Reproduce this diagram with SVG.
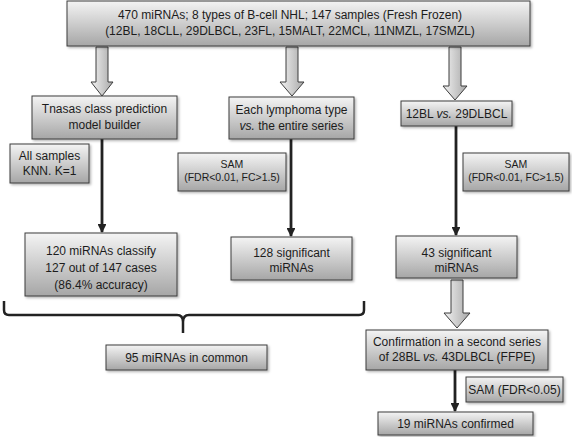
<svg xmlns="http://www.w3.org/2000/svg" width="572" height="437" viewBox="0 0 572 437">
<defs>
<linearGradient id="gBox" x1="0" y1="0" x2="0" y2="1">
<stop offset="0" stop-color="#f4f4f4"/>
<stop offset="1" stop-color="#a6a6a6"/>
</linearGradient>
<linearGradient id="gArr" x1="0" y1="0" x2="1" y2="0">
<stop offset="0" stop-color="#f2f2f2"/>
<stop offset="1" stop-color="#a8a8a8"/>
</linearGradient>
<filter id="sh" x="-10%" y="-10%" width="130%" height="140%">
<feDropShadow dx="1.5" dy="1.5" stdDeviation="1" flood-color="#000" flood-opacity="0.3"/>
</filter>
<marker id="ah" viewBox="0 0 10 10" refX="9" refY="5" markerWidth="3.2" markerHeight="3.2" orient="auto" markerUnits="strokeWidth">
<path d="M0,0 L10,5 L0,10 z" fill="#222"/>
</marker>
</defs>
<style>
.box{fill:url(#gBox);stroke:#3c3c3c;stroke-width:1;filter:url(#sh)}
.barr{fill:url(#gArr);stroke:#3c3c3c;stroke-width:1}
.t{font-family:"Liberation Sans",Arial,Helvetica,sans-serif;font-size:12px;fill:#1c1c1c;text-anchor:middle}
.s{font-size:10.5px}
.it{font-style:italic}
.ln{stroke:#222;stroke-width:2.8;fill:none}
.br{stroke:#222;stroke-width:2.5;fill:none;stroke-linejoin:round}
</style>
<rect width="572" height="437" fill="#fff"/>

<g id="connectors">
<path class="barr" d="M96,47 H108 V82 H113 L102,96 L91,82 H96 Z"/>
<path class="barr" d="M286,47 H298 V82 H304 L292,96 L280,82 H286 Z"/>
<path class="barr" d="M449,47 H461 V86 H467 L455,100 L443,86 H449 Z"/>
<path class="barr" d="M451,280 H463 V313 H470 L457,328 L444,313 H451 Z"/>
<line class="ln" x1="102" y1="139" x2="102" y2="232" marker-end="url(#ah)"/>
<line class="ln" x1="291" y1="139" x2="291" y2="236" marker-end="url(#ah)"/>
<line class="ln" x1="456" y1="126" x2="456" y2="235" marker-end="url(#ah)"/>
<line class="ln" x1="455" y1="370" x2="455" y2="411" marker-end="url(#ah)"/>
<path class="br" d="M4,301 V310 Q4,315 9,315 H177 Q183,315 183,322 V333 M183,322 Q183,315 189,315 H359 Q364,315 364,310 V301"/>
</g>

<g id="top">
<rect class="box" x="67" y="1" width="463" height="45"/>
<text class="t" x="290" y="19">470 miRNAs; 8 types of B-cell NHL; 147 samples (Fresh Frozen)</text>
<text class="t" x="290" y="35">(12BL, 18CLL, 29DLBCL, 23FL, 15MALT, 22MCL, 11NMZL, 17SMZL)</text>
</g>

<g id="tnasas">
<rect class="box" x="32" y="96" width="145" height="43"/>
<text class="t" x="104.5" y="113">Tnasas class prediction</text>
<text class="t" x="104.5" y="129">model builder</text>
</g>

<g id="each">
<rect class="box" x="229" y="97" width="125" height="42"/>
<text class="t" x="291.5" y="114">Each lymphoma type</text>
<text class="t" x="291.5" y="130"><tspan class="it">vs.</tspan> the entire series</text>
</g>

<g id="blvsdlbcl">
<rect class="box" x="401" y="101" width="111" height="25"/>
<text class="t" x="456.5" y="118">12BL <tspan class="it">vs.</tspan> 29DLBCL</text>
</g>

<g id="allsamples">
<rect class="box" x="10" y="144" width="79" height="39"/>
<text class="t" x="49.5" y="160">All samples</text>
<text class="t" x="49.5" y="175">KNN. K=1</text>
</g>

<g id="sam1">
<rect class="box" x="178" y="153" width="108" height="38"/>
<text class="t s" x="232" y="168">SAM</text>
<text class="t s" x="232" y="181">(FDR&lt;0.01, FC&gt;1.5)</text>
</g>

<g id="sam2">
<rect class="box" x="463" y="153" width="106" height="38"/>
<text class="t s" x="516" y="168">SAM</text>
<text class="t s" x="516" y="181">(FDR&lt;0.01, FC&gt;1.5)</text>
</g>

<g id="n120">
<rect class="box" x="25" y="233" width="152" height="63"/>
<text class="t" x="101" y="255">120 miRNAs classify</text>
<text class="t" x="101" y="272">127 out of 147 cases</text>
<text class="t" x="101" y="289">(86.4% accuracy)</text>
</g>

<g id="n128">
<rect class="box" x="231" y="237" width="121" height="43"/>
<text class="t" x="291.5" y="257">128 significant</text>
<text class="t" x="291.5" y="272">miRNAs</text>
</g>

<g id="n43">
<rect class="box" x="396" y="236" width="121" height="42"/>
<text class="t" x="456.5" y="257">43 significant</text>
<text class="t" x="456.5" y="272">miRNAs</text>
</g>

<g id="common">
<rect class="box" x="106" y="345" width="161" height="25"/>
<text class="t" x="186.5" y="361.5">95 miRNAs in common</text>
</g>

<g id="confirm">
<rect class="box" x="366" y="330" width="182" height="40"/>
<text class="t" x="457" y="346">Confirmation in a second series</text>
<text class="t" x="457" y="361">of 28BL <tspan class="it">vs.</tspan> 43DLBCL (FFPE)</text>
</g>

<g id="sam3">
<rect class="box" x="466" y="377" width="97" height="25"/>
<text class="t" x="514.5" y="394">SAM (FDR&lt;0.05)</text>
</g>

<g id="confirmed">
<rect class="box" x="378" y="412" width="155" height="23"/>
<text class="t" x="455.5" y="428">19 miRNAs confirmed</text>
</g>
</svg>
